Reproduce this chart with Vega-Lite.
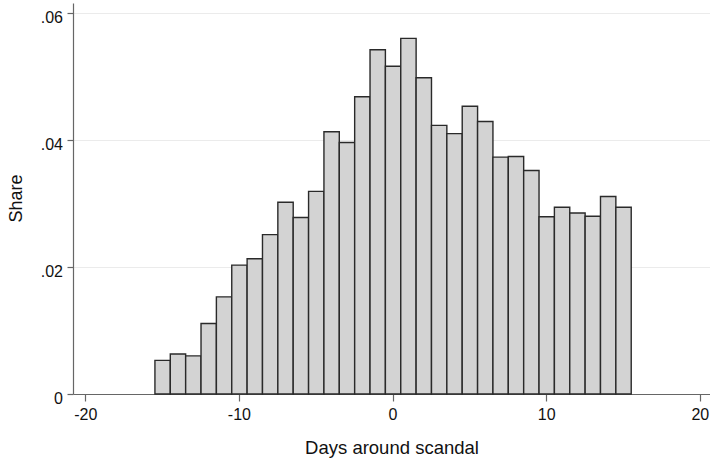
{
  "$schema": "https://vega.github.io/schema/vega-lite/v6.json",
  "autosize": "none",
  "width": 637,
  "height": 391,
  "padding": {"left": 73, "top": 3, "right": 0, "bottom": 65},
  "background": "white",
  "config": {
    "view": {"stroke": null},
    "font": "Liberation Sans",
    "axis": {
      "labelFont": "Liberation Sans",
      "titleFont": "Liberation Sans",
      "labelColor": "#111111",
      "titleColor": "#111111",
      "titleFontWeight": "normal",
      "domainColor": "#666666",
      "tickColor": "#666666",
      "domainWidth": 1.2,
      "tickWidth": 1.2
    }
  },
  "data": {
    "values": [
      {"day": -15, "share": 0.0053},
      {"day": -14, "share": 0.0063},
      {"day": -13, "share": 0.0060},
      {"day": -12, "share": 0.0111},
      {"day": -11, "share": 0.0153},
      {"day": -10, "share": 0.0203},
      {"day": -9, "share": 0.0213},
      {"day": -8, "share": 0.0251},
      {"day": -7, "share": 0.0302},
      {"day": -6, "share": 0.0278},
      {"day": -5, "share": 0.0319},
      {"day": -4, "share": 0.0413},
      {"day": -3, "share": 0.0396},
      {"day": -2, "share": 0.0468},
      {"day": -1, "share": 0.0542},
      {"day": 0, "share": 0.0516},
      {"day": 1, "share": 0.0560},
      {"day": 2, "share": 0.0498},
      {"day": 3, "share": 0.0423},
      {"day": 4, "share": 0.0410},
      {"day": 5, "share": 0.0453},
      {"day": 6, "share": 0.0429},
      {"day": 7, "share": 0.0373},
      {"day": 8, "share": 0.0374},
      {"day": 9, "share": 0.0352},
      {"day": 10, "share": 0.0279},
      {"day": 11, "share": 0.0294},
      {"day": 12, "share": 0.0285},
      {"day": 13, "share": 0.0280},
      {"day": 14, "share": 0.0311},
      {"day": 15, "share": 0.0294}
    ]
  },
  "mark": {
    "type": "bar",
    "fill": "#d3d3d3",
    "stroke": "#2a2a2a",
    "strokeWidth": 1.4,
    "binSpacing": 0
  },
  "encoding": {
    "x": {
      "field": "day",
      "type": "quantitative",
      "bin": {"extent": [-15.5, 15.5], "step": 1, "nice": false},
      "scale": {"domain": [-20.8, 20.66], "nice": false, "zero": false},
      "axis": {
        "values": [-20, -10, 0, 10, 20],
        "labelExpr": "'' + datum.value",
        "grid": false,
        "tickSize": 7,
        "labelPadding": 18,
        "labelBaseline": "alphabetic",
        "labelFontSize": 16,
        "labelFlush": false,
        "title": "Days around scandal",
        "titleFontSize": 18.5,
        "titleBaseline": "alphabetic",
        "titleY": 59.7
      }
    },
    "y": {
      "aggregate": "sum",
      "field": "share",
      "type": "quantitative",
      "scale": {"domain": [0, 0.06157], "nice": false},
      "axis": {
        "values": [0, 0.02, 0.04, 0.06],
        "labelExpr": "datum.value == 0 ? '0' : '.' + substring(format(datum.value, '.2f'), 2)",
        "grid": true,
        "gridColor": "#ebebeb",
        "gridWidth": 1,
        "tickSize": 6,
        "labelPadding": 4.5,
        "labelFontSize": 16,
        "labelBaseline": "alphabetic",
        "labelOffset": 9.5,
        "labelFlush": false,
        "title": "Share",
        "titleFontSize": 18,
        "titleAngle": -90,
        "titleBaseline": "alphabetic",
        "titleAlign": "center",
        "titleX": -52,
        "titleY": 195
      }
    }
  }
}
